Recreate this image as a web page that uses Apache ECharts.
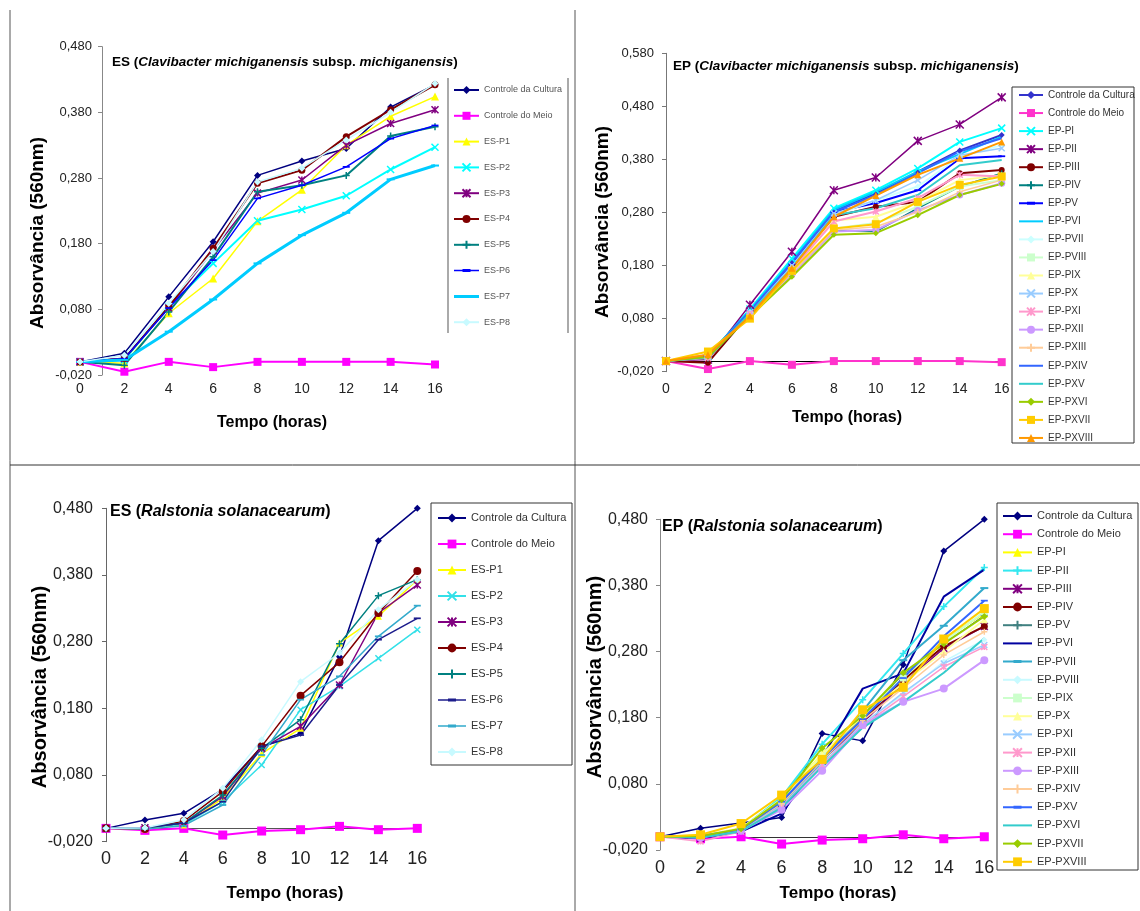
<!DOCTYPE html>
<html><head><meta charset="utf-8">
<script src="https://cdn.jsdelivr.net/npm/echarts@6/dist/echarts.min.js"></script>
<style>html,body{margin:0;padding:0;background:#fff}#c{width:1140px;height:911px}</style>
</head><body><div id="c"></div>
<script>
// ---------- DATA ----------
const hours = [0, 2, 4, 6, 8, 10, 12, 14, 16];

const esNames = ['Controle da Cultura', 'Controle do Meio', 'ES-P1', 'ES-P2', 'ES-P3', 'ES-P4', 'ES-P5', 'ES-P6', 'ES-P7', 'ES-P8'];
const epNames = ['Controle da Cultura', 'Controle do Meio', 'EP-PI', 'EP-PII', 'EP-PIII', 'EP-PIV', 'EP-PV', 'EP-PVI', 'EP-PVII', 'EP-PVIII', 'EP-PIX', 'EP-PX', 'EP-PXI', 'EP-PXII', 'EP-PXIII', 'EP-PXIV', 'EP-PXV', 'EP-PXVI', 'EP-PXVII', 'EP-PXVIII'];

// Panel 1: ES (Clavibacter michiganensis subsp. michiganensis)
const cmEsCultura = [0.000, 0.013, 0.099, 0.183, 0.284, 0.306, 0.325, 0.388, 0.422];
const cmEsMeio    = [0.000, -0.015, 0.000, -0.008, 0.000, 0.000, 0.000, 0.000, -0.004];
const cmEsP1 = [0.000, -0.002, 0.074, 0.127, 0.214, 0.262, 0.330, 0.374, 0.404];
const cmEsP2 = [0.000, 0.003, 0.084, 0.150, 0.215, 0.232, 0.253, 0.293, 0.327];
const cmEsP3 = [0.000, 0.005, 0.082, 0.170, 0.257, 0.277, 0.330, 0.363, 0.384];
const cmEsP4 = [0.000, 0.005, 0.084, 0.173, 0.272, 0.292, 0.343, 0.384, 0.422];
const cmEsP5 = [0.000, -0.005, 0.076, 0.160, 0.259, 0.269, 0.284, 0.344, 0.358];
const cmEsP6 = [0.000, 0.005, 0.082, 0.155, 0.249, 0.269, 0.297, 0.340, 0.360];
const cmEsP7 = [0.000, 0.003, 0.046, 0.095, 0.150, 0.193, 0.227, 0.278, 0.299];
const cmEsP8 = [0.000, 0.010, 0.089, 0.168, 0.274, 0.295, 0.338, 0.380, 0.424];

// Panel 2: EP (Clavibacter michiganensis subsp. michiganensis)
const cmEpCultura = [0, 0.010, 0.095, 0.185, 0.283, 0.316, 0.357, 0.397, 0.426];
const cmEpMeio    = [0, -0.015, 0, -0.007, 0, 0, 0, 0, -0.002];
const cmEpP1  = [0, 0.008, 0.098, 0.193, 0.288, 0.322, 0.363, 0.413, 0.439];
const cmEpP2  = [0, 0.003, 0.106, 0.206, 0.322, 0.346, 0.415, 0.446, 0.497];
const cmEpP3  = [0, -0.003, 0.090, 0.178, 0.272, 0.291, 0.300, 0.354, 0.360];
const cmEpP4  = [0, 0.005, 0.088, 0.165, 0.247, 0.244, 0.288, 0.329, 0.354];
const cmEpP5  = [0, 0.008, 0.094, 0.183, 0.281, 0.298, 0.322, 0.382, 0.386];
const cmEpP6  = [0, 0.010, 0.096, 0.188, 0.285, 0.319, 0.357, 0.390, 0.423];
const cmEpP7  = [0, 0.008, 0.092, 0.178, 0.275, 0.303, 0.329, 0.385, 0.407];
const cmEpP8  = [0, 0.010, 0.087, 0.168, 0.250, 0.260, 0.291, 0.329, 0.341];
const cmEpP9  = [0, 0.012, 0.088, 0.170, 0.265, 0.272, 0.300, 0.341, 0.350];
const cmEpP10 = [0, 0.009, 0.092, 0.180, 0.278, 0.303, 0.341, 0.388, 0.401];
const cmEpP11 = [0, 0.006, 0.089, 0.172, 0.263, 0.282, 0.307, 0.351, 0.348];
const cmEpP12 = [0, 0.012, 0.086, 0.163, 0.244, 0.247, 0.284, 0.313, 0.335];
const cmEpP13 = [0, 0.010, 0.087, 0.166, 0.247, 0.253, 0.281, 0.319, 0.341];
const cmEpP14 = [0, 0.009, 0.094, 0.186, 0.281, 0.313, 0.354, 0.395, 0.420];
const cmEpP15 = [0, 0.007, 0.090, 0.175, 0.275, 0.288, 0.313, 0.369, 0.379];
const cmEpP16 = [0, 0.008, 0.084, 0.159, 0.238, 0.241, 0.275, 0.313, 0.334];
const cmEpP17 = [0, 0.018, 0.080, 0.170, 0.250, 0.258, 0.300, 0.332, 0.348];
const cmEpP18 = [0, 0.012, 0.085, 0.175, 0.272, 0.312, 0.351, 0.382, 0.413];

// Panel 3: ES (Ralstonia solanacearum)
const rsEsCultura = [0, 0.0125, 0.0225, 0.0585, 0.1225, 0.1425, 0.2575, 0.4315, 0.480];
const rsEsMeio    = [0, -0.003, 0, -0.010, -0.004, -0.002, 0.003, -0.002, 0];
const rsEsP1 = [0, -0.001, 0.005, 0.045, 0.112, 0.150, 0.278, 0.318, 0.373];
const rsEsP2 = [0, 0.001, 0.006, 0.040, 0.095, 0.178, 0.213, 0.255, 0.298];
const rsEsP3 = [0, 0.001, 0.008, 0.048, 0.120, 0.153, 0.215, 0.323, 0.365];
const rsEsP4 = [0, -0.001, 0.011, 0.055, 0.123, 0.199, 0.249, 0.323, 0.386];
const rsEsP5 = [0, 0.001, 0.008, 0.050, 0.120, 0.163, 0.277, 0.349, 0.373];
const rsEsP6 = [0, 0.001, 0.008, 0.040, 0.123, 0.140, 0.215, 0.283, 0.315];
const rsEsP7 = [0, -0.001, 0.004, 0.035, 0.110, 0.193, 0.228, 0.288, 0.334];
const rsEsP8 = [0, 0.001, 0.013, 0.060, 0.133, 0.220, 0.263, 0.328, 0.373];

// Panel 4: EP (Ralstonia solanacearum)
const rsEpCultura = [0, 0.013, 0.021, 0.029, 0.156, 0.145, 0.260, 0.432, 0.480];
const rsEpMeio    = [0, -0.003, 0, -0.011, -0.005, -0.003, 0.003, -0.003, 0];
const rsEpP1  = [0, 0.002, 0.012, 0.058, 0.125, 0.180, 0.235, 0.298, 0.338];
const rsEpP2  = [0, 0.000, 0.012, 0.060, 0.140, 0.207, 0.277, 0.348, 0.407];
const rsEpP3  = [0, -0.002, 0.010, 0.050, 0.115, 0.172, 0.232, 0.285, 0.318];
const rsEpP4  = [0, 0.000, 0.012, 0.055, 0.118, 0.175, 0.237, 0.288, 0.318];
const rsEpP5  = [0, 0.001, 0.011, 0.052, 0.120, 0.182, 0.245, 0.292, 0.335];
const rsEpP6  = [0, -0.002, 0.008, 0.035, 0.120, 0.224, 0.247, 0.363, 0.404];
const rsEpP7  = [0, 0.001, 0.010, 0.048, 0.112, 0.190, 0.267, 0.319, 0.376];
const rsEpP8  = [0, -0.001, 0.009, 0.045, 0.108, 0.172, 0.215, 0.265, 0.298];
const rsEpP9  = [0, 0.001, 0.012, 0.055, 0.122, 0.185, 0.240, 0.295, 0.340];
const rsEpP10 = [0, 0.002, 0.013, 0.057, 0.125, 0.183, 0.232, 0.280, 0.328];
const rsEpP11 = [0, -0.001, 0.010, 0.047, 0.110, 0.170, 0.218, 0.262, 0.290];
const rsEpP12 = [0, -0.007, 0.008, 0.045, 0.108, 0.168, 0.212, 0.257, 0.287];
const rsEpP13 = [0, -0.001, 0.009, 0.041, 0.100, 0.169, 0.204, 0.224, 0.267];
const rsEpP14 = [0, 0.000, 0.011, 0.050, 0.115, 0.176, 0.225, 0.275, 0.310];
const rsEpP15 = [0, 0.001, 0.011, 0.053, 0.118, 0.178, 0.240, 0.303, 0.357];
const rsEpP16 = [0, -0.001, 0.008, 0.044, 0.106, 0.165, 0.204, 0.248, 0.300];
const rsEpP17 = [0, 0.001, 0.012, 0.056, 0.134, 0.183, 0.248, 0.292, 0.333];
const rsEpP18 = [0, 0.003, 0.020, 0.063, 0.117, 0.192, 0.226, 0.299, 0.345];

const panel1 = [cmEsCultura, cmEsMeio, cmEsP1, cmEsP2, cmEsP3, cmEsP4, cmEsP5, cmEsP6, cmEsP7, cmEsP8];
const panel2 = [cmEpCultura, cmEpMeio, cmEpP1, cmEpP2, cmEpP3, cmEpP4, cmEpP5, cmEpP6, cmEpP7, cmEpP8, cmEpP9, cmEpP10, cmEpP11, cmEpP12, cmEpP13, cmEpP14, cmEpP15, cmEpP16, cmEpP17, cmEpP18];
const panel3 = [rsEsCultura, rsEsMeio, rsEsP1, rsEsP2, rsEsP3, rsEsP4, rsEsP5, rsEsP6, rsEsP7, rsEsP8];
const panel4 = [rsEpCultura, rsEpMeio, rsEpP1, rsEpP2, rsEpP3, rsEpP4, rsEpP5, rsEpP6, rsEpP7, rsEpP8, rsEpP9, rsEpP10, rsEpP11, rsEpP12, rsEpP13, rsEpP14, rsEpP15, rsEpP16, rsEpP17, rsEpP18];

// ---------- STYLES ----------
const SYM = {
  diamond: 'diamond', square: 'rect', triangle: 'triangle', circle: 'circle',
  x: 'path://M0,0L10,10M10,0L0,10',
  plus: 'path://M5,0L5,10M0,5L10,5',
  star: 'path://M0,0L10,10M10,0L0,10M5,0L5,10',
  dash: 'path://M0,0L10,0L10,2.5L0,2.5Z',
  none: 'none'
};
// [color, symbol, size, lineWidth]
const style1 = [
  ['#000080','diamond',7,1.5], ['#FF00FF','square',8,2], ['#FFFF00','triangle',8,1.5], ['#00FFFF','x',7,2],
  ['#800080','star',7,1.5], ['#800000','circle',7,2], ['#008080','plus',7,2], ['#0000FF','dash',7,1.5],
  ['#00CCFF','dash',8,3], ['#C8FAFF','diamond',7,1.5]
];
const style2 = [
  ['#3333CC','diamond',6,2], ['#FF33CC','square',8,2], ['#00FFFF','x',7,2], ['#800080','star',8,1.5],
  ['#800000','circle',6,2], ['#008080','plus',6,1.5], ['#0000FF','dash',7,2], ['#00CCFF','none',0,2],
  ['#CCFFFF','diamond',6,2], ['#CCFFCC','square',7,2], ['#FFFF99','triangle',7,2], ['#99CCFF','x',6,1.5],
  ['#FF99CC','star',6,2], ['#CC99FF','circle',7,2], ['#FFCC99','plus',6,1.5], ['#3366FF','none',0,2],
  ['#33CCCC','none',0,2], ['#99CC00','diamond',6,2], ['#FFCC00','square',8,2], ['#FF9900','triangle',7,2]
];
const style3 = [
  ['#000080','diamond',7,1.5], ['#FF00FF','square',9,2], ['#FFFF00','triangle',7,1.5], ['#33E0E8','x',6,1.5],
  ['#800080','star',7,1.5], ['#800000','circle',8,1.5], ['#008080','plus',7,1.5], ['#1C1C8C','dash',7,1.5],
  ['#33AACC','dash',7,1.5], ['#C8FAFF','diamond',7,1.5]
];
const style4 = [
  ['#000080','diamond',7,1.5], ['#FF00FF','square',9,2], ['#FFFF00','triangle',8,2], ['#33E8F0','plus',7,2],
  ['#800080','star',7,1.5], ['#800000','circle',7,2], ['#408080','plus',7,1], ['#0000A0','none',0,2],
  ['#33AACC','dash',8,2], ['#C8FAFF','diamond',6,1.5], ['#CCFFCC','square',7,2], ['#FFFF99','triangle',7,2],
  ['#99CCFF','x',6,1.5], ['#FF99CC','star',6,1.5], ['#CC99FF','circle',8,2], ['#FFCC99','plus',6,1.5],
  ['#3366FF','dash',7,2], ['#33CCCC','none',0,2], ['#99CC00','diamond',7,2], ['#FFCC00','square',9,2]
];

const FONT = "'Liberation Sans', Arial, sans-serif";
const fmt = v => v.toFixed(3).replace('.', ',');

function buildSeries(panelIdx, names, values, styles, zeroLine) {
  return values.map((vals, i) => {
    const [color, sym, size, width] = styles[i];
    const stroke = (sym === 'x' || sym === 'plus' || sym === 'star');
    const s = {
      type: 'line',
      name: names[i] + '|' + panelIdx,
      xAxisIndex: panelIdx, yAxisIndex: panelIdx,
      data: hours.map((h, k) => [h, vals[k]]),
      symbol: SYM[sym],
      symbolSize: size,
      symbolKeepAspect: true,
      showSymbol: sym !== 'none',
      lineStyle: { color: color, width: width },
      itemStyle: { color: color, borderColor: color, borderWidth: stroke ? 1.5 : 0 },
      emphasis: { disabled: true },
      animation: false,
      z: 3
    };
    if (i === 1 && zeroLine) {
      s.markLine = {
        silent: true, symbol: ['none', 'none'], label: { show: false },
        lineStyle: { color: zeroLine, width: 1, type: 'solid' },
        data: [[{ coord: [hours[0], 0] }, { coord: [hours[hours.length - 1], 0] }]],
        z: 2
      };
    }
    return s;
  });
}

function xAxis(i, fs, margin) {
  return { gridIndex: i, type: 'value', min: 0, max: 16, interval: 2,
    axisLine: { show: false, onZero: false }, axisTick: { show: false }, splitLine: { show: false },
    axisLabel: { fontSize: fs, color: '#222', margin: margin, fontFamily: FONT } };
}
function yAxis(i, min, max, fs, margin, offset, lineColor) {
  return { gridIndex: i, type: 'value', min: min, max: max, interval: 0.1, offset: offset,
    axisLine: { show: true, onZero: false, lineStyle: { color: lineColor, width: 1 } },
    axisTick: { show: true, length: 4, lineStyle: { color: lineColor } },
    splitLine: { show: false },
    axisLabel: { formatter: fmt, fontSize: fs, color: '#222', margin: margin, fontFamily: FONT } };
}
// legend icon for "dash" marker series: a line with a short flat bar in the middle
function dashIcon(W, H, lw) {
  const a = H / 2 - lw / 2, b = H / 2 + lw / 2, c = H / 2 - 1.5, d = H / 2 + 1.5;
  const m1 = W / 2 - 4, m2 = W / 2 + 4;
  return 'path://M0,0L0.01,0L0,0.01Z' +
    'M0,' + a + 'L' + W + ',' + a + 'L' + W + ',' + b + 'L0,' + b + 'Z' +
    'M' + m1 + ',' + c + 'L' + m2 + ',' + c + 'L' + m2 + ',' + d + 'L' + m1 + ',' + d + 'Z' +
    'M' + W + ',' + H + 'L' + (W - 0.01) + ',' + H + 'L' + W + ',' + (H - 0.01) + 'Z';
}
function legend(names, styles, panelIdx, left, top, itemWidth, itemHeight, gap, fs, color) {
  return { data: names.map((n, i) => {
      const st = styles[i];
      const item = { name: n + '|' + panelIdx };
      if (st[1] === 'none') item.itemStyle = { opacity: 0 };
      if (st[1] === 'dash') item.icon = dashIcon(itemWidth, itemHeight, st[3]);
      return item;
    }),
    orient: 'vertical', left: left, top: top, padding: 0,
    itemWidth: itemWidth, itemHeight: itemHeight, itemGap: gap, selectedMode: false,
    formatter: n => n.split('|')[0],
    textStyle: { fontSize: fs, color: color, fontFamily: FONT, lineHeight: itemHeight, padding: [0, 0, 0, 0] } };
}
function titleRich(left, top, parts, fs) {
  return { left: left, top: top, padding: 0, text: parts,
    textStyle: { fontSize: fs, fontWeight: 'bold', color: '#000', fontFamily: FONT,
      rich: { i: { fontSize: fs, fontWeight: 'bold', fontStyle: 'italic', color: '#000', fontFamily: FONT } } } };
}
function txt(x, y, text, fs, rot) {
  return { type: 'text', x: x, y: y, rotation: rot || 0, silent: true,
    style: { text: text, font: 'bold ' + fs + 'px ' + FONT, fill: '#000', align: 'center', verticalAlign: 'middle' } };
}
function ln(x1, y1, x2, y2, c, w) {
  return { type: 'line', silent: true, shape: { x1: x1, y1: y1, x2: x2, y2: y2 }, style: { stroke: c, lineWidth: w } };
}
function box(x, y, w, h) {
  return { type: 'rect', silent: true, shape: { x: x, y: y, width: w, height: h }, style: { fill: 'none', stroke: '#333', lineWidth: 1 } };
}

const option = {
  backgroundColor: '#fff',
  animation: false,
  title: [
    titleRich(112, 55, 'ES ({i|Clavibacter michiganensis} subsp. {i|michiganensis})', 13.5),
    titleRich(673, 59, 'EP ({i|Clavibacter michiganensis} subsp. {i|michiganensis})', 13.5),
    titleRich(110, 504, 'ES ({i|Ralstonia solanacearum})', 16),
    titleRich(662, 519, 'EP ({i|Ralstonia solanacearum})', 16)
  ],
  grid: [
    { left: 80, top: 46.7, width: 355, height: 328.3 },
    { left: 666, top: 53.3, width: 335.7, height: 318.4 },
    { left: 106, top: 508.3, width: 311.3, height: 333.4 },
    { left: 660, top: 519.3, width: 324.3, height: 330.7 }
  ],
  xAxis: [xAxis(0, 14, 7), xAxis(1, 14, 10), xAxis(2, 18, 8), xAxis(3, 18, 9)],
  yAxis: [
    yAxis(0, -0.02, 0.48, 13, 10, -22, '#888'),
    yAxis(1, -0.02, 0.58, 13, 12, 0, '#777'),
    yAxis(2, -0.02, 0.48, 16, 13, 0, '#666'),
    yAxis(3, -0.02, 0.48, 16, 12, 0, '#888')
  ],
  legend: [
    legend(esNames, style1, 0, 453, 85, 25, 10, 15.8, 9, '#555'),
    legend(epNames, style2, 1, 1018, 90, 24, 10, 8.05, 10, '#333'),
    legend(esNames, style3, 2, 437, 512.5, 28, 11, 15, 11, '#333'),
    legend(epNames, style4, 3, 1002, 510.5, 29, 11, 7.2, 11, '#333')
  ],
  series: [].concat(
    buildSeries(0, esNames, panel1, style1, null),
    buildSeries(1, epNames, panel2, style2, '#000'),
    buildSeries(2, esNames, panel3, style3, '#555'),
    buildSeries(3, epNames, panel4, style4, '#333')
  ),
  graphic: [
    ln(10, 10, 10, 911, '#555', 1),
    ln(575, 10, 575, 911, '#555', 1),
    ln(10, 465, 1140, 465, '#333', 1),
    ln(448, 78, 448, 333, '#aaa', 2),
    ln(568, 78, 568, 333, '#aaa', 2),
    box(1012, 87, 122, 356),
    box(431, 503, 141, 262),
    box(997, 503, 141, 367),
    txt(38, 233, 'Absorvância (560nm)', 19, Math.PI / 2),
    txt(603, 222, 'Absorvância (560nm)', 19, Math.PI / 2),
    txt(40, 687, 'Absorvância (560nm)', 20, Math.PI / 2),
    txt(595, 677, 'Absorvância (560nm)', 20, Math.PI / 2),
    txt(272, 423, 'Tempo (horas)', 16, 0),
    txt(847, 418, 'Tempo (horas)', 16, 0),
    txt(285, 893, 'Tempo (horas)', 17, 0),
    txt(838, 893, 'Tempo (horas)', 17, 0)
  ]
};

const chart = echarts.init(document.getElementById('c'), null, { renderer: 'canvas' });
chart.setOption(option);
</script>
</body></html>
